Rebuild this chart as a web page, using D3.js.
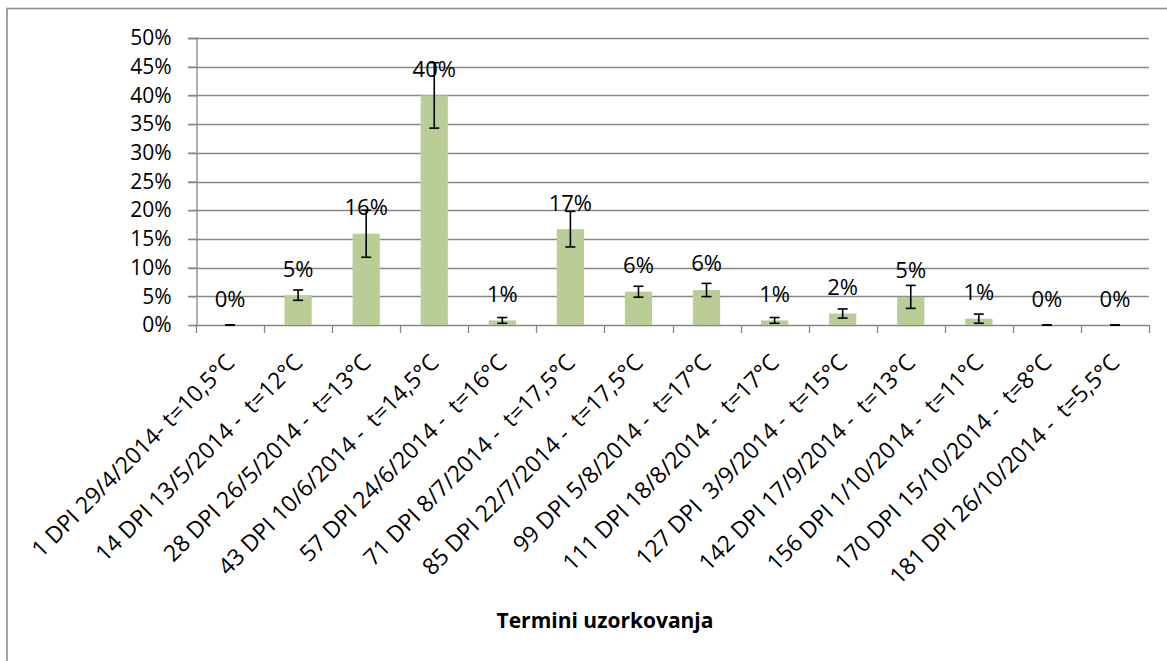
<!DOCTYPE html>
<html>
<head>
<meta charset="utf-8">
<script src="https://cdn.jsdelivr.net/npm/d3@7"></script>
<style>
  html, body { margin: 0; padding: 0; background: #fff; }
  svg { display: block; }
</style>
</head>
<body>
<svg id="chart" width="1167" height="661"></svg>
<script>
const categories = [
  "1 DPI 29/4/2014- t=10,5°C",
  "14 DPI 13/5/2014 -  t=12°C",
  "28 DPI 26/5/2014 -  t=13°C",
  "43 DPI 10/6/2014 -  t=14,5°C",
  "57 DPI 24/6/2014 -  t=16°C",
  "71 DPI 8/7/2014 -  t=17,5°C",
  "85 DPI 22/7/2014 -  t=17,5°C",
  "99 DPI 5/8/2014 -  t=17°C",
  "111 DPI 18/8/2014 -  t=17°C",
  "127 DPI  3/9/2014 -  t=15°C",
  "142 DPI 17/9/2014 -  t=13°C",
  "156 DPI 1/10/2014 -  t=11°C",
  "170 DPI 15/10/2014 -  t=8°C",
  "181 DPI 26/10/2014 -  t=5,5°C"
];
const values = [0, 0.052, 0.159, 0.400, 0.008, 0.167, 0.058, 0.061, 0.008, 0.020, 0.049, 0.011, 0, 0];
const errors = [0, 0.009, 0.041, 0.057, 0.005, 0.031, 0.0095, 0.0115, 0.005, 0.008, 0.020, 0.008, 0, 0];
const yTicks = [0, 0.05, 0.10, 0.15, 0.20, 0.25, 0.30, 0.35, 0.40, 0.45, 0.50];
const xTitle = "Termini uzorkovanja";

(function () {
const svg = d3.select("#chart");
const FONT = "'Open Sans', 'Noto Sans', sans-serif";

svg.append("rect").attr("width", 1167).attr("height", 661).attr("fill", "#fff");
// outer chart border (extends beyond right/bottom of picture)
svg.append("rect")
  .attr("x", 7).attr("y", 8.5).attr("width", 1300).attr("height", 800)
  .attr("fill", "none").attr("stroke", "#8c8c8c").attr("stroke-width", 1.6);

const pLeft = 196, pRight = 1149, pTop = 38, pBottom = 325;
const x = d3.scaleBand().domain(categories).range([pLeft, pRight]).paddingInner(0.6).paddingOuter(0.3);
const y = d3.scaleLinear().domain([0, 0.5]).range([pBottom, pTop]);
const step = x.step();

// gridlines
svg.append("g").selectAll("line").data(yTicks.filter(d => d > 0)).join("line")
  .attr("x1", pLeft - 8).attr("x2", pRight)
  .attr("y1", d => Math.round(y(d)) + 0.5).attr("y2", d => Math.round(y(d)) + 0.5)
  .attr("stroke", "#878787").attr("stroke-width", 1.3);

// y axis
const yAxis = d3.axisLeft(y).tickValues(yTicks).tickFormat(d3.format(".0%")).tickSize(8).tickPadding(17);
const gy = svg.append("g").attr("transform", `translate(${pLeft + 0.5},0)`).call(yAxis);
gy.selectAll("path, line").attr("stroke", "#878787").attr("stroke-width", 1.3);
gy.selectAll("text").attr("font-family", FONT).attr("font-size", 21).attr("fill", "#000");

// x axis line and boundary ticks
svg.append("line").attr("x1", pLeft).attr("x2", pRight)
  .attr("y1", pBottom + 0.5).attr("y2", pBottom + 0.5)
  .attr("stroke", "#878787").attr("stroke-width", 1.3);
const boundaries = d3.range(categories.length + 1).map(i => pLeft + i * step);
svg.append("g").selectAll("line").data(boundaries).join("line")
  .attr("x1", d => Math.round(d) + 0.5).attr("x2", d => Math.round(d) + 0.5)
  .attr("y1", pBottom).attr("y2", pBottom + 8)
  .attr("stroke", "#878787").attr("stroke-width", 1.3);

// bars
svg.append("g").selectAll("rect").data(values).join("rect")
  .attr("x", (d, i) => x(categories[i]))
  .attr("width", x.bandwidth())
  .attr("y", d => y(d))
  .attr("height", d => pBottom - y(d))
  .attr("fill", "#b9cd96");

// error bars
const eg = svg.append("g").attr("stroke", "#000").attr("stroke-width", 1.6);
values.forEach((v, i) => {
  const cx = x(categories[i]) + x.bandwidth() / 2;
  const y1 = y(v + errors[i]), y2 = y(Math.max(0, v - errors[i]));
  eg.append("line").attr("x1", cx).attr("x2", cx).attr("y1", y1).attr("y2", y2);
  eg.append("line").attr("x1", cx - 5).attr("x2", cx + 5).attr("y1", y1).attr("y2", y1);
  eg.append("line").attr("x1", cx - 5).attr("x2", cx + 5).attr("y1", y2).attr("y2", y2);
});

// data labels
svg.append("g").selectAll("text").data(values).join("text")
  .attr("x", (d, i) => x(categories[i]) + x.bandwidth() / 2)
  .attr("y", d => y(d) - 18.5)
  .attr("text-anchor", "middle")
  .attr("font-family", FONT).attr("font-size", 22).attr("fill", "#000")
  .text(d => d3.format(".0%")(d));

// category labels (rotated)
svg.append("g").selectAll("text").data(categories).join("text")
  .attr("transform", d => `translate(${x(d) + x.bandwidth() / 2 + 6},${pBottom + 39}) rotate(-45)`)
  .attr("text-anchor", "end")
  .style("white-space", "pre")
  .attr("font-family", FONT).attr("font-size", 23).attr("fill", "#000")
  .text(d => d);

// axis title
svg.append("text")
  .attr("x", 605).attr("y", 628)
  .attr("text-anchor", "middle")
  .attr("font-family", FONT).attr("font-size", 21).attr("font-weight", "bold").attr("fill", "#000")
  .text(xTitle);
})();
</script>
</body>
</html>
